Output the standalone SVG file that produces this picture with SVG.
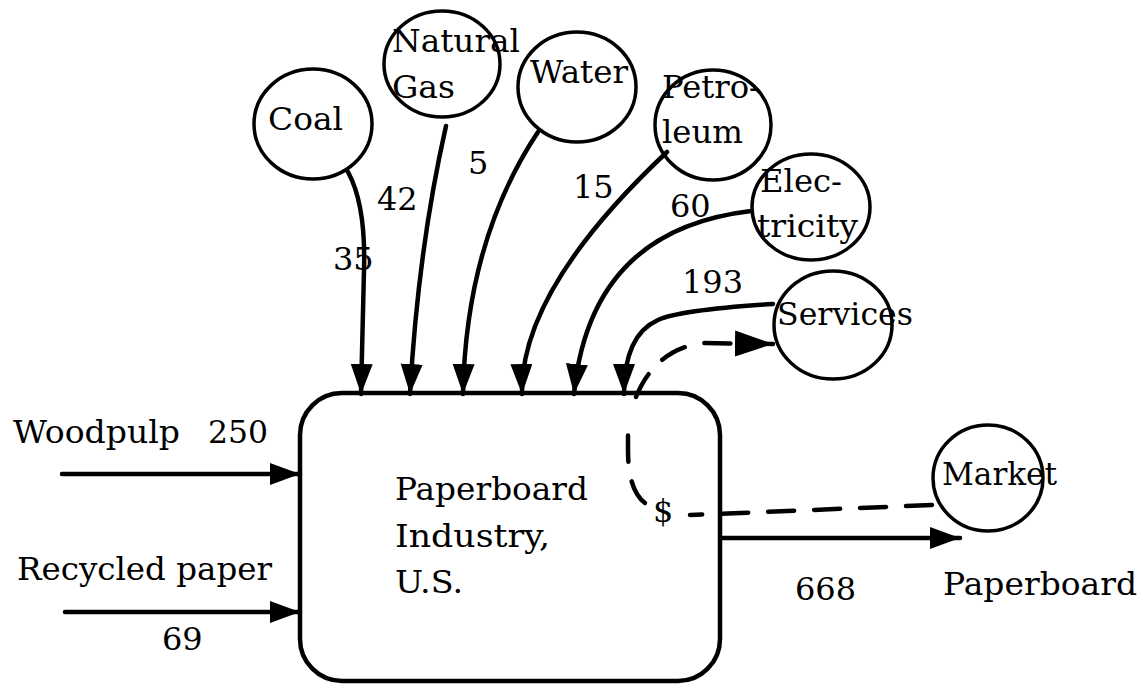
<svg xmlns="http://www.w3.org/2000/svg" width="1143" height="698" viewBox="0 0 1143 698">
<style>
text{font-family:"DejaVu Serif","Liberation Serif",serif;font-size:32px;fill:#000}
.n{fill:#fff;stroke:#000;stroke-width:3.5}
.c{fill:none;stroke:#000;stroke-width:4.5;stroke-linecap:round}
.d{fill:none;stroke:#000;stroke-width:4.5;stroke-linecap:round;stroke-dasharray:26 20}
</style>
<defs>
<marker id="a" markerUnits="userSpaceOnUse" markerWidth="32" markerHeight="26" refX="30" refY="11" orient="auto"><path d="M0,0L30,11L0,22Z" fill="#000"/></marker>
<marker id="b" markerUnits="userSpaceOnUse" markerWidth="40" markerHeight="30" refX="38" refY="13" orient="auto"><path d="M0,0L38,13L0,26Z" fill="#000"/></marker>
</defs>
<g id="industry"><rect x="300" y="393" width="420" height="288" rx="42" class="n" style="stroke-width:4.5"/>
<text x="395" y="500" textLength="193" lengthAdjust="spacingAndGlyphs">Paperboard</text><text x="395" y="547" textLength="155" lengthAdjust="spacingAndGlyphs">Industry,</text><text x="395" y="593" textLength="68" lengthAdjust="spacingAndGlyphs">U.S.</text></g>
<g id="coal"><ellipse cx="313" cy="124" rx="59" ry="55" class="n"/><text x="268" y="130" textLength="75" lengthAdjust="spacingAndGlyphs">Coal</text></g>
<g id="gas"><ellipse cx="442" cy="64" rx="58" ry="53" class="n"/><text x="392" y="52" textLength="128" lengthAdjust="spacingAndGlyphs">Natural</text><text x="392" y="98" textLength="63" lengthAdjust="spacingAndGlyphs">Gas</text></g>
<g id="water"><ellipse cx="577" cy="87" rx="59" ry="55" class="n"/><text x="530" y="83" textLength="98" lengthAdjust="spacingAndGlyphs">Water</text></g>
<g id="petroleum"><ellipse cx="713" cy="125" rx="58" ry="55" class="n"/><text x="662" y="98" textLength="98" lengthAdjust="spacingAndGlyphs">Petro-</text><text x="662" y="143" textLength="81" lengthAdjust="spacingAndGlyphs">leum</text></g>
<g id="electricity"><ellipse cx="811" cy="207" rx="59" ry="53" class="n"/><text x="760" y="192" textLength="82" lengthAdjust="spacingAndGlyphs">Elec-</text><text x="757" y="237" textLength="101" lengthAdjust="spacingAndGlyphs">tricity</text></g>
<g id="services"><ellipse cx="833" cy="325" rx="59" ry="54" class="n"/><text x="777" y="325" textLength="136" lengthAdjust="spacingAndGlyphs">Services</text></g>
<g id="market"><ellipse cx="988" cy="478" rx="55" ry="53" class="n"/><text x="942" y="485" textLength="115" lengthAdjust="spacingAndGlyphs">Market</text></g>
<g id="connectors">
<path class="c" marker-end="url(#a)" d="M348,172 Q366,205 364,270 L361,394"/>
<path class="c" marker-end="url(#a)" d="M446,126 Q418,250 410,394"/>
<path class="c" marker-end="url(#a)" d="M538,132 Q466,240 463,394"/>
<path class="c" marker-end="url(#a)" d="M667,152 Q520,290 522,394"/>
<path class="c" marker-end="url(#a)" d="M751,211 Q590,230 574,394"/>
<path class="c" marker-end="url(#a)" d="M773,304 Q680,310 658,320 Q624,335 624,394"/>
<path class="c" marker-end="url(#a)" d="M62,474 L300,474"/>
<path class="c" marker-end="url(#a)" d="M65,612 L300,612"/>
<path class="c" marker-end="url(#a)" d="M722,538 L960,538"/>
<path class="d" d="M932,505 L740,513 L690,515"/>
<path class="d" d="M645,503 Q628,490 628,450 L628,422"/>
<path class="d" marker-end="url(#b)" d="M636,397 Q655,350 702,343 L773,344"/>
<text x="653" y="522">$</text>
</g>
<text x="13" y="443" textLength="167" lengthAdjust="spacingAndGlyphs">Woodpulp</text>
<text x="208" y="443" textLength="60" lengthAdjust="spacingAndGlyphs">250</text>
<text x="17" y="580" textLength="255" lengthAdjust="spacingAndGlyphs">Recycled paper</text>
<text x="162" y="650">69</text>
<text x="333" y="270">35</text>
<text x="377" y="210">42</text>
<text x="468" y="174">5</text>
<text x="573" y="198">15</text>
<text x="670" y="217">60</text>
<text x="682" y="293">193</text>
<text x="795" y="600">668</text>
<text x="943" y="595" textLength="194" lengthAdjust="spacingAndGlyphs">Paperboard</text>
</svg>
